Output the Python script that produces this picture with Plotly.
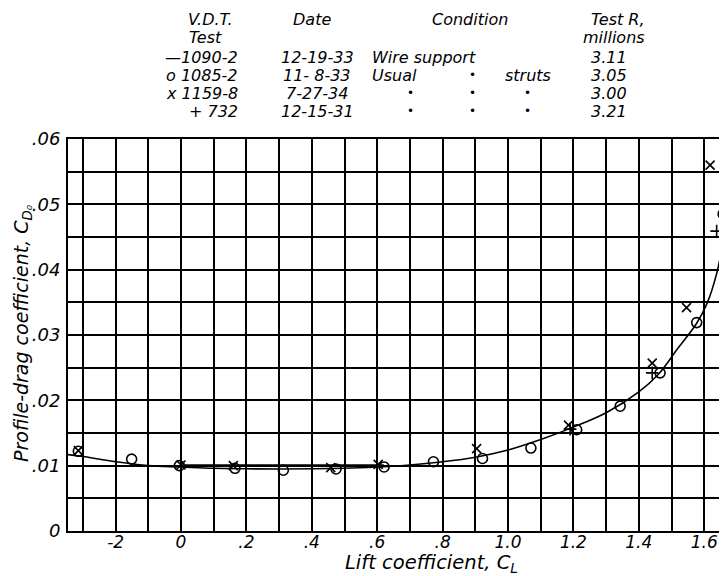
import plotly.graph_objects as go

# ---------------- data ----------------
# Test 1090-2, wire support: faired curve (line, no markers)
curve_cl = [-0.346, -0.30, -0.20, -0.10, 0.00, 0.10, 0.30, 0.50, 0.60, 0.70, 0.80,
            0.90, 1.00, 1.10, 1.20, 1.30, 1.40, 1.46, 1.52, 1.577, 1.61, 1.638,
            1.655, 1.669, 1.68]
curve_cd = [0.0117, 0.0114, 0.0106, 0.0100, 0.0098, 0.0096, 0.0095, 0.0096, 0.0098,
            0.0101, 0.0106, 0.0113, 0.0124, 0.0140, 0.0159, 0.0181, 0.0213, 0.0240,
            0.0280, 0.0318, 0.0350, 0.0394, 0.0435, 0.0481, 0.0520]
# short straight fairing across the flat part
flat_cl = [0.00, 0.62]
flat_cd = [0.0101, 0.0101]

# Test 1085-2 (circles)
circ_cl = [-0.314, -0.151, -0.005, 0.165, 0.313, 0.474, 0.621, 0.772, 0.922,
           1.070, 1.210, 1.343, 1.465, 1.577, 1.658]
circ_cd = [0.0122, 0.0110, 0.0100, 0.0096, 0.0093, 0.0095, 0.0098, 0.0106, 0.0111,
           0.0127, 0.0155, 0.0191, 0.0242, 0.0319, 0.0485]

# Test 1159-8 (crosses)
xm_cl = [-0.314, 0.000, 0.160, 0.458, 0.603, 0.904, 1.185, 1.441, 1.546, 1.618]
xm_cd = [0.0123, 0.0101, 0.0100, 0.0097, 0.0102, 0.0126, 0.0162, 0.0257, 0.0342, 0.0560]

# Test 732 (plus)
pl_cl = [1.190, 1.441, 1.638]
pl_cd = [0.0156, 0.0242, 0.0459]

# axis ticks
x_tickvals = [-0.2, 0.0, 0.2, 0.4, 0.6, 0.8, 1.0, 1.2, 1.4, 1.6]
x_ticktext = ["-2", "0", ".2", ".4", ".6", ".8", "1.0", "1.2", "1.4", "1.6"]
x_minorvals = [-0.3, -0.1, 0.1, 0.3, 0.5, 0.7, 0.9, 1.1, 1.3, 1.5]
y_tickvals = [0.0, 0.01, 0.02, 0.03, 0.04, 0.05, 0.06]
y_ticktext = ["0", ".01", ".02", ".03", ".04", ".05", ".06"]
y_minorvals = [0.005, 0.015, 0.025, 0.035, 0.045, 0.055]

# header table text
hdr_row1 = ["V.D.T.", "Date", "Condition", "Test R,"]
hdr_row2 = ["Test", "millions"]
test_ids = ["\u20141090-2", "o 1085-2", "x 1159-8", "+ 732"]
dates = ["12-19-33", "11- 8-33", "7-27-34", "12-15-31"]
reynolds = ["3.11", "3.05", "3.00", "3.21"]
x_title = "Lift coefficient, C<sub>L</sub>"
y_title = "Profile-drag coefficient, C<sub>D\u2080</sub>"

# ---------------- figure ----------------
# the page body has an 8 px margin, so the figure is drawn 8 px in from the window corner
OFF = 8
W, H = 727 - OFF, 576 - OFF
ML = 68 - OFF                 # plot left edge at window x = 68
MT = 139 - OFF                # plot top at window y = 139
MB = H - (531 - OFF)          # plot bottom at window y = 531
MR = 0
PW, PH = W - ML - MR, H - MT - MB
FONT = "DejaVu Sans"


def px(x):  # window pixel -> paper
    return (x - OFF - ML) / PW


def py(y):
    return (H - MB - (y - OFF)) / PH


fig = go.Figure()
fig.add_trace(go.Scatter(x=curve_cl, y=curve_cd, mode="lines",
                         line=dict(shape="spline", color="black", width=1.6), hoverinfo="skip"))
fig.add_trace(go.Scatter(x=flat_cl, y=flat_cd, mode="lines", line=dict(color="black", width=1.3),
                         hoverinfo="skip"))
fig.add_trace(go.Scatter(x=circ_cl, y=circ_cd, mode="markers",
                         marker=dict(symbol="circle-open", size=10, color="black", line=dict(width=1.6))))
fig.add_trace(go.Scatter(x=xm_cl, y=xm_cd, mode="markers",
                         marker=dict(symbol="x-thin-open", size=9, color="black", line=dict(width=1.6))))
fig.add_trace(go.Scatter(x=pl_cl, y=pl_cd, mode="markers",
                         marker=dict(symbol="cross-thin-open", size=9, color="black", line=dict(width=1.6))))

fig.update_xaxes(range=[-0.3456, -0.3456 + PW / 327.0], tickvals=x_tickvals, ticktext=x_ticktext,
                 showgrid=True, gridcolor="black", gridwidth=2, zeroline=False,
                 showline=True, linecolor="black", linewidth=2, mirror=True, ticks="",
                 tickfont=dict(family=FONT, size=17, color="black", style="italic"),
                 ticklabelstandoff=-5,
                 minor=dict(tickvals=x_minorvals, showgrid=True, gridcolor="black", gridwidth=2, ticks=""))
fig.update_yaxes(range=[0, 0.06], tickvals=y_tickvals, ticktext=y_ticktext,
                 showgrid=True, gridcolor="black", gridwidth=2, zeroline=False,
                 showline=True, linecolor="black", linewidth=2, mirror=False, ticks="",
                 tickfont=dict(family=FONT, size=18, color="black", style="italic"),
                 ticklabelstandoff=2,
                 minor=dict(tickvals=y_minorvals, showgrid=True, gridcolor="black", gridwidth=2, ticks=""))

ann = []


def add_text(text, x, y, xanchor="center", size=16):
    ann.append(dict(text=text, x=px(x), y=py(y), xref="paper", yref="paper", showarrow=False,
                    xanchor=xanchor, yanchor="middle",
                    font=dict(family=FONT, size=size, color="black", style="italic")))


# header rows (window pixel positions)
row_y = [19, 37, 57, 75, 93, 111]
for t, xc in zip(hdr_row1, [210, 312, 470, 618]):
    add_text(t, xc, row_y[0])
for t, xc in zip(hdr_row2, [205, 614]):
    add_text(t, xc, row_y[1])
for i in range(4):
    yy = row_y[2 + i]
    add_text(test_ids[i], 240, yy, xanchor="right")
    add_text(dates[i], 317, yy)
    add_text(reynolds[i], 609, yy)
add_text("Wire support", 370, row_y[2], xanchor="left")
add_text("Usual", 370, row_y[3], xanchor="left")
add_text("\u2022", 472, row_y[3], size=12)
add_text("struts", 528, row_y[3])
for yy in (row_y[4], row_y[5]):
    for xc in (410, 472, 527):
        add_text("\u2022", xc, yy, size=12)

# axis titles
ann.append(dict(text=x_title, x=px(431), y=py(563), xref="paper", yref="paper", showarrow=False,
                xanchor="center", yanchor="middle",
                font=dict(family=FONT, size=19.5, color="black", style="italic")))
ann.append(dict(text=y_title, x=px(22), y=py(333), xref="paper", yref="paper", showarrow=False,
                xanchor="center", yanchor="middle", textangle=-90,
                font=dict(family=FONT, size=19, color="black", style="italic")))

fig.update_layout(width=W, height=H, margin=dict(l=ML, r=MR, t=MT, b=MB, pad=0),
                  paper_bgcolor="white", plot_bgcolor="white", showlegend=False,
                  annotations=ann, font=dict(family=FONT, color="black"))

fig.write_html("out.html")
